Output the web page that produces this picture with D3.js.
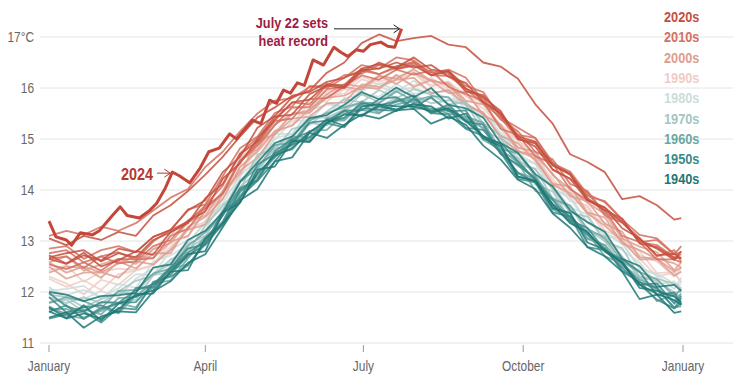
<!DOCTYPE html>
<html>
<head>
<meta charset="utf-8">
<title>Daily global air temperature, 1940-2024</title>
<script src="https://cdn.jsdelivr.net/npm/d3@7"></script>
<style>
  body { margin: 0; background: #fff; }
  svg text { font-family: "Liberation Sans Narrow", "Liberation Sans", Arial, sans-serif; }
  .axis-label { font-size: 14px; fill: #666; }
  .legend { font-size: 15px; font-weight: bold; }
  .note { font-size: 15px; font-weight: bold; fill: #9e1b42; }
</style>
</head>
<body>
<svg id="chart" width="733" height="387"></svg>
<script>
// day of year for every sampled value (every 10 days + Dec 30)
const sampleDays = [0,10,20,30,40,50,60,70,80,90,100,110,120,130,140,150,160,170,180,190,200,210,220,230,240,250,260,270,280,290,300,310,320,330,340,350,360,364];

const temps1940s = [
  [11.62,11.48,11.58,11.48,11.66,11.96,11.97,12.40,12.43,13.05,13.34,13.75,14.40,14.46,14.96,14.95,15.32,15.48,15.47,15.64,15.58,15.68,15.64,15.40,15.50,15.01,14.86,14.26,14.18,13.72,13.35,13.18,12.79,12.58,12.08,12.02,11.91,11.80],
  [12.00,11.95,11.82,11.92,11.94,11.98,12.48,12.54,13.02,13.20,13.56,14.16,14.54,14.92,15.05,15.41,15.47,15.67,15.92,15.78,16.01,15.82,16.00,15.67,15.60,15.42,14.92,14.73,14.31,14.07,13.60,13.37,13.18,12.65,12.51,12.10,12.14,12.02],
  [11.70,11.49,11.74,11.44,11.77,11.92,12.03,12.40,12.74,12.80,13.55,13.76,14.33,14.67,14.82,15.13,15.38,15.26,15.64,15.68,15.64,15.64,15.55,15.60,15.36,15.06,14.90,14.26,14.18,13.64,13.55,12.97,12.83,12.57,12.15,11.96,11.84,11.75],
  [11.50,11.60,11.30,11.52,11.62,11.60,12.01,12.21,12.57,12.74,13.27,13.80,14.02,14.56,14.64,15.12,15.02,15.28,15.48,15.40,15.56,15.59,15.30,15.44,15.28,14.87,14.60,14.20,14.02,13.54,13.26,12.88,12.70,12.40,11.86,11.95,11.59,11.62]
];
const temps1950s = [
  [11.48,11.56,11.62,11.40,11.69,11.66,12.20,12.30,12.52,12.97,13.34,13.86,14.18,14.56,14.98,14.94,15.31,15.23,15.60,15.57,15.55,15.70,15.51,15.48,15.20,15.06,14.74,14.22,14.15,13.56,13.48,12.88,12.82,12.48,12.15,11.85,11.68,11.78],
  [11.90,11.60,11.70,11.74,11.60,12.08,12.09,12.46,12.77,13.00,13.50,14.04,14.20,14.76,15.00,15.14,15.32,15.42,15.70,15.66,15.74,15.85,15.50,15.68,15.34,15.28,14.70,14.50,14.22,13.72,13.48,13.16,12.82,12.60,12.14,12.17,11.77,11.92],
  [11.61,11.74,11.47,11.67,11.78,11.80,12.16,12.34,12.72,12.92,13.36,14.00,14.18,14.73,14.89,15.03,15.31,15.55,15.44,15.67,15.55,15.80,15.52,15.59,15.22,15.18,14.74,14.33,14.15,13.69,13.38,13.12,12.86,12.42,12.19,12.08,11.68,11.88],
  [11.98,11.72,11.62,11.80,11.79,12.03,12.15,12.49,12.85,12.94,13.58,13.83,14.50,14.70,14.90,15.32,15.36,15.56,15.56,15.78,15.82,15.62,15.82,15.54,15.56,15.03,14.92,14.56,14.20,13.80,13.40,13.26,12.82,12.64,12.40,11.94,11.99,11.76]
];
const temps1960s = [
  [11.68,11.58,11.66,11.56,11.88,11.90,12.08,12.46,12.68,13.08,13.38,13.96,14.30,14.64,15.05,15.03,15.41,15.39,15.74,15.57,15.73,15.78,15.58,15.63,15.38,15.22,14.74,14.47,14.25,13.65,13.54,13.04,12.92,12.52,12.25,12.08,11.82,11.97],
  [11.72,11.54,11.48,11.70,11.58,11.93,12.16,12.23,12.66,13.05,13.30,13.90,14.20,14.72,14.79,15.16,15.18,15.50,15.57,15.50,15.78,15.59,15.60,15.50,15.43,14.98,14.79,14.54,13.98,13.84,13.46,13.06,12.92,12.40,12.20,12.05,11.70,11.72],
  [11.78,11.90,11.82,11.68,12.02,12.04,12.36,12.46,12.90,13.17,13.50,14.15,14.44,14.88,14.93,15.36,15.51,15.62,15.72,15.70,15.93,15.75,15.84,15.82,15.44,15.32,14.80,14.72,14.27,13.82,13.70,13.24,13.06,12.60,12.39,12.25,11.92,12.06],
  [11.66,11.67,11.50,11.63,11.78,11.70,12.14,12.45,12.54,12.94,13.32,13.97,14.26,14.64,15.00,14.98,15.36,15.36,15.68,15.52,15.68,15.74,15.52,15.56,15.34,15.05,14.78,14.34,14.22,13.62,13.44,13.15,12.70,12.56,12.22,11.82,11.95,11.74]
];
const temps1970s = [
  [11.80,11.85,11.62,11.80,11.78,11.85,12.33,12.39,12.85,13.07,13.38,14.06,14.36,14.82,14.85,15.31,15.27,15.57,15.72,15.63,15.81,15.72,15.80,15.57,15.40,15.30,14.72,14.63,14.11,13.97,13.42,13.22,13.00,12.52,12.31,11.97,11.96,11.92],
  [11.95,11.90,11.70,11.86,11.98,11.98,12.36,12.54,12.94,13.10,13.60,14.20,14.40,14.86,15.02,15.42,15.42,15.58,15.88,15.72,15.96,15.86,15.70,15.76,15.68,15.17,15.00,14.50,14.42,13.84,13.66,13.18,13.10,12.70,12.28,12.22,11.99,12.00],
  [11.90,11.78,11.90,11.78,12.01,12.22,12.32,12.64,12.78,13.30,13.70,14.00,14.70,14.79,15.20,15.28,15.54,15.78,15.72,15.96,15.80,15.98,15.87,15.68,15.72,15.31,15.06,14.58,14.40,14.02,13.55,13.48,12.99,12.86,12.30,12.26,12.16,12.08]
];
const temps1980s = [
  [12.05,11.94,12.04,11.90,12.07,12.35,12.33,12.83,13.02,13.20,13.85,14.16,14.60,15.10,15.10,15.56,15.68,15.63,15.96,16.08,15.97,16.00,15.88,15.97,15.66,15.46,15.22,14.63,14.51,14.01,13.88,13.37,13.13,12.97,12.45,12.36,12.16,12.15],
  [12.02,12.06,12.12,11.87,12.16,12.08,12.60,12.72,12.92,13.40,13.74,14.28,14.60,14.99,15.35,15.37,15.71,15.63,16.00,16.02,15.92,16.14,15.91,15.94,15.58,15.53,15.12,14.70,14.52,14.04,13.83,13.36,13.16,12.94,12.50,12.32,12.06,12.28],
  [12.10,11.87,11.86,12.02,11.90,12.26,12.46,12.58,12.98,13.35,13.64,14.17,14.50,15.02,15.09,15.46,15.45,15.80,15.87,15.83,16.08,15.89,15.92,15.80,15.73,15.28,15.09,14.82,14.26,14.08,13.66,13.52,13.02,12.82,12.58,12.15,12.21,12.04]
];
const temps1990s = [
  [12.30,12.17,11.95,12.24,12.14,12.43,12.52,12.89,13.25,13.37,13.96,14.26,14.88,15.12,15.28,15.72,15.74,15.98,15.93,16.20,16.20,16.05,16.20,15.96,15.93,15.46,15.29,14.98,14.58,14.22,13.78,13.70,13.20,13.06,12.80,12.37,12.39,12.18],
  [12.26,12.10,12.23,12.04,12.35,12.42,12.53,12.98,13.08,13.60,13.82,14.46,14.74,15.14,15.50,15.50,15.86,15.89,16.17,16.07,16.18,16.28,16.02,16.13,15.84,15.72,15.20,14.97,14.72,14.15,13.98,13.54,13.36,13.02,12.72,12.60,12.30,12.47],
  [12.43,12.52,12.20,12.40,12.46,12.43,12.84,13.15,13.22,13.64,13.95,14.64,14.89,15.29,15.60,15.60,15.94,15.98,16.22,16.12,16.23,16.32,16.05,16.11,15.84,15.60,15.25,14.84,14.67,14.12,13.90,13.65,13.13,13.03,12.66,12.30,12.38,12.19]
];
const temps2000s = [
  [12.38,12.50,12.47,12.28,12.60,12.46,12.76,12.76,13.28,13.47,13.82,14.45,14.76,15.16,15.26,15.59,15.81,15.85,16.02,15.98,16.26,16.02,16.16,16.05,15.70,15.49,15.06,14.92,14.57,14.12,14.07,13.56,13.46,12.95,12.82,12.65,12.40,12.48],
  [12.58,12.70,12.42,12.54,12.65,12.55,12.84,12.96,13.37,13.50,13.98,14.58,14.80,15.28,15.49,15.56,15.88,16.08,16.02,16.24,16.18,16.37,16.14,16.09,15.75,15.68,15.27,14.83,14.75,14.29,14.02,13.75,13.53,13.05,12.89,12.78,12.43,12.58],
  [12.50,12.26,12.38,12.39,12.28,12.60,12.54,12.83,13.22,13.32,13.93,14.38,14.63,15.09,15.40,15.44,15.70,15.72,16.07,16.02,16.16,16.20,15.90,15.96,15.66,15.52,15.02,14.76,14.62,14.10,13.94,13.54,13.30,13.00,12.64,12.64,12.32,12.40],
  [12.58,12.38,12.50,12.38,12.56,12.70,12.67,12.99,13.10,13.60,13.97,14.32,14.97,15.09,15.50,15.52,15.82,16.02,15.97,16.24,16.08,16.30,16.14,15.90,15.92,15.48,15.28,14.76,14.68,14.32,13.88,13.78,13.34,13.18,12.68,12.66,12.56,12.48]
];
const temps2010s = [
  [12.65,12.70,12.47,12.70,12.56,12.60,12.90,13.02,13.40,13.64,13.93,14.58,14.91,15.35,15.40,15.78,15.80,16.04,16.25,16.16,16.36,16.26,16.34,16.02,15.88,15.75,15.20,15.08,14.66,14.52,14.02,13.80,13.60,13.10,12.98,12.64,12.64,12.58],
  [12.76,12.82,12.58,12.70,12.78,12.63,12.99,13.22,13.37,13.70,14.08,14.72,15.02,15.36,15.72,15.68,16.06,16.06,16.38,16.27,16.43,16.50,16.25,16.24,15.98,15.70,15.42,14.99,14.94,14.40,14.22,13.95,13.50,13.36,13.06,12.70,12.82,12.59],
  [12.85,12.90,12.65,12.82,12.90,12.78,13.08,13.21,13.62,13.72,14.27,14.82,15.05,15.51,15.64,16.04,16.00,16.20,16.45,16.38,16.60,16.54,16.30,16.36,16.20,15.74,15.52,15.08,15.02,14.54,14.32,13.88,13.78,13.42,12.98,13.02,12.74,12.78],
  [13.10,13.20,13.12,13.28,13.20,13.35,13.60,13.85,14.02,14.45,14.75,15.15,15.50,15.75,15.80,16.02,16.05,16.25,16.28,16.45,16.38,16.48,16.30,16.28,15.98,15.80,15.38,15.15,14.75,14.60,14.12,13.98,13.55,13.40,12.98,12.92,12.68,12.74],
  [12.54,12.45,12.58,12.42,12.65,12.64,12.66,13.10,13.24,13.68,13.92,14.56,14.87,15.27,15.62,15.63,15.98,16.02,16.34,16.27,16.40,16.52,16.25,16.33,16.04,15.92,15.42,15.22,15.02,14.52,14.36,13.92,13.76,13.42,13.12,13.05,12.74,12.90]
];
// 2020, 2021, 2022, 2023
const temps2020s = [
  [13.05,12.92,13.10,13.02,13.18,13.10,13.50,13.70,13.98,14.30,14.65,15.05,15.42,15.62,15.85,15.92,16.12,16.20,16.35,16.38,16.50,16.40,16.45,16.22,16.10,15.72,15.50,15.02,14.85,14.40,14.22,13.80,13.65,13.25,13.05,12.72,12.75,12.65],
  [12.72,12.56,12.77,12.50,12.62,12.80,12.73,13.18,13.39,13.58,14.22,14.52,15.00,15.44,15.48,15.88,16.04,16.00,16.32,16.50,16.37,16.44,16.25,16.34,15.99,15.82,15.55,15.00,14.91,14.48,14.32,13.84,13.60,13.44,12.95,12.88,12.66,12.68],
  [12.68,12.76,12.82,12.60,12.76,12.68,13.02,13.17,13.35,13.84,14.12,14.70,14.95,15.39,15.72,15.77,16.08,16.03,16.38,16.47,16.40,16.60,16.36,16.31,15.93,15.86,15.47,15.05,14.95,14.49,14.30,13.80,13.66,13.36,13.02,12.85,12.63,12.80],
  [12.65,12.55,12.72,12.62,12.85,12.78,13.08,13.22,13.60,13.80,14.35,14.65,15.22,15.45,15.82,15.95,16.30,16.50,16.88,17.05,16.92,16.98,17.02,16.85,16.80,16.50,16.42,16.18,15.68,15.30,14.70,14.55,14.35,13.82,13.88,13.70,13.42,13.45]
];

// 2024, up to the July 22 record
const days2024 = [0,4,10,13,18,25,29,36,41,45,52,58,62,67,71,75,81,87,92,98,104,108,113,117,122,127,131,135,139,143,147,152,158,164,168,172,177,181,185,191,195,199,203];
const temps2024 = [13.39,13.08,13.02,12.92,13.16,13.12,13.2,13.48,13.67,13.5,13.45,13.6,13.74,14.04,14.35,14.28,14.14,14.43,14.75,14.82,15.1,15.0,15.2,15.37,15.3,15.76,15.7,15.96,15.9,16.1,16.05,16.55,16.45,16.8,16.7,16.62,16.75,16.72,16.85,16.9,16.82,16.8,17.16];

const decadeNames = ["1940s","1950s","1960s","1970s","1980s","1990s","2000s","2010s","2020s"];
const decadeColors = ["#1d7876","#3a8a87","#6aa7a2","#a3c6c2","#ccdcda","#efcdc6","#df9c8e","#d4705f","#c54f3d"];
const decadeTemps = [temps1940s,temps1950s,temps1960s,temps1970s,temps1980s,temps1990s,temps2000s,temps2010s,temps2020s];
// order in which decades are painted (last on top)
const drawOrder = [5,4,6,3,7,2,1,0,8];

const yTicks = [11,12,13,14,15,16,17];
const xTickDays = [0,90,181,273,365];
const xTickLabels = ["January","April","July","October","January"];

const svg = d3.select("#chart");
const x = d3.scaleLinear().domain([0, 365]).range([49, 683]);
const y = d3.scaleLinear().domain([11, 17]).range([343, 37]);

// the reference face is a condensed one, squeeze the fallback horizontally
function condense(sel, k = 0.85) {
  sel.each(function() {
    const t = d3.select(this);
    const tx = +t.attr("x"), ty = +t.attr("y");
    t.attr("x", 0).attr("y", 0)
      .attr("transform", `translate(${tx},${ty}) scale(${k},1)`);
  });
}

// grid + y labels
svg.append("g").selectAll("line")
  .data(yTicks)
  .join("line")
  .attr("x1", 40).attr("x2", 733)
  .attr("y1", d => y(d)).attr("y2", d => y(d))
  .attr("stroke", "#e4e4e4").attr("stroke-width", 1);

svg.append("g").selectAll("text")
  .data(yTicks)
  .join("text")
  .attr("class", "axis-label")
  .attr("x", 34)
  .attr("y", d => y(d) + 5)
  .attr("text-anchor", "end")
  .text(d => d === 17 ? "17°C" : d)
  .call(condense);

// x ticks
svg.append("g").selectAll("line")
  .data(xTickDays)
  .join("line")
  .attr("x1", d => x(d)).attr("x2", d => x(d))
  .attr("y1", y(11) + 2).attr("y2", y(11) + 9)
  .attr("stroke", "#999");

svg.append("g").selectAll("text")
  .data(xTickDays)
  .join("text")
  .attr("class", "axis-label")
  .attr("x", d => x(d))
  .attr("y", 371)
  .attr("text-anchor", "middle")
  .text((d, i) => xTickLabels[i])
  .call(condense);

// the year lines
const line = d3.line()
  .x((v, i) => x(sampleDays[i]))
  .y(v => y(v));

const linesG = svg.append("g").attr("fill", "none");
drawOrder.forEach(k => {
  linesG.append("g")
    .selectAll("path")
    .data(decadeTemps[k])
    .join("path")
    .attr("d", line)
    .attr("stroke", decadeColors[k])
    .attr("stroke-width", 1.8)
    .attr("stroke-opacity", 0.85)
    .attr("stroke-linejoin", "round");
});

const line2024 = d3.line()
  .x((v, i) => x(days2024[i]))
  .y(v => y(v));

linesG.append("path")
  .datum(temps2024)
  .attr("d", line2024)
  .attr("stroke", "#c4463a")
  .attr("stroke-width", 3)
  .attr("stroke-linejoin", "round");

// legend
svg.append("g").selectAll("text")
  .data(decadeNames.slice().reverse())
  .join("text")
  .attr("class", "legend")
  .attr("x", 664)
  .attr("y", (d, i) => 22 + i * 20.3)
  .attr("fill", (d, i) => decadeColors[decadeColors.length - 1 - i])
  .text(d => d)
  .call(condense);

// annotations
const rec = { day: days2024[days2024.length - 1], temp: temps2024[temps2024.length - 1] };
const note = svg.append("g");
note.append("text").attr("class", "note")
  .attr("x", 328).attr("y", 28).attr("text-anchor", "end").text("July 22 sets")
  .call(condense);
note.append("text").attr("class", "note")
  .attr("x", 328).attr("y", 46).attr("text-anchor", "end").text("heat record")
  .call(condense);

function arrow(x1, x2, yy, color) {
  note.append("line")
    .attr("x1", x1).attr("x2", x2).attr("y1", yy).attr("y2", yy)
    .attr("stroke", color).attr("stroke-width", 1);
  note.append("path")
    .attr("d", `M${x2 - 6},${yy - 4}L${x2},${yy}L${x2 - 6},${yy + 4}`)
    .attr("fill", "none").attr("stroke", color).attr("stroke-width", 1);
}
arrow(334, x(rec.day) - 2, y(rec.temp), "#222");

const peakIdx = days2024.indexOf(71);
note.append("text")
  .attr("x", 121).attr("y", 180)
  .attr("font-size", 17).attr("font-weight", "bold")
  .attr("fill", "#b5382e")
  .text("2024")
  .call(condense);
arrow(157, x(days2024[peakIdx]) - 2, y(temps2024[peakIdx]) + 1, "#b5382e");
</script>
</body>
</html>
